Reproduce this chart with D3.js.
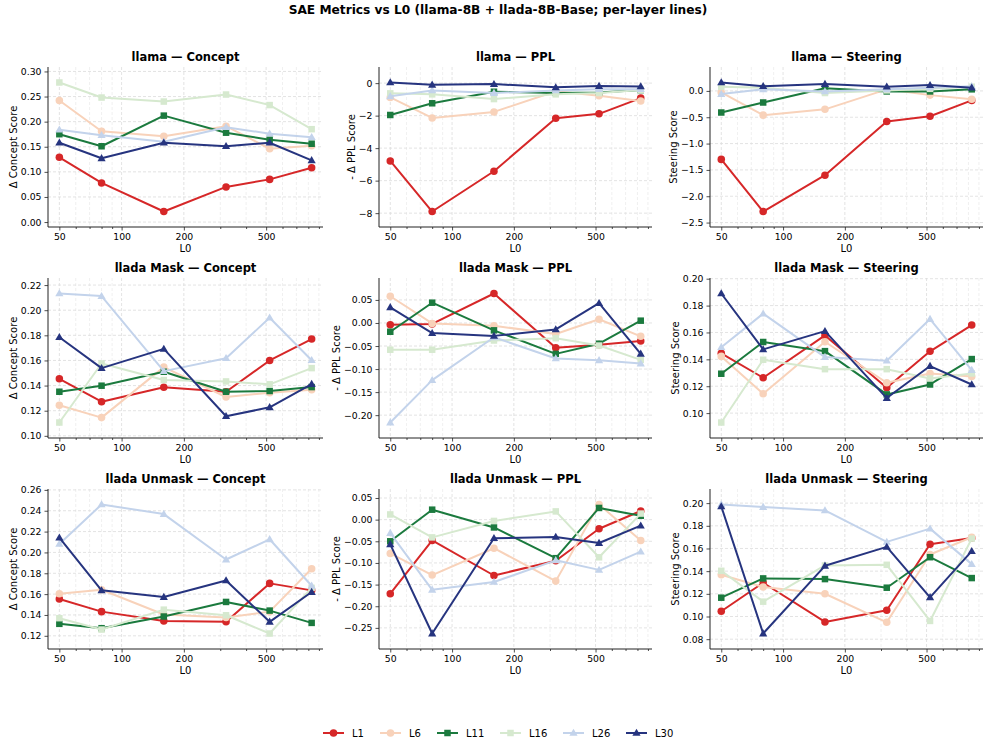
<!DOCTYPE html>
<html><head><meta charset="utf-8">
<script src="https://cdn.jsdelivr.net/npm/d3@7"></script>
<style>
body{margin:0;background:#fff;}
svg text{font-family:"DejaVu Sans",sans-serif;fill:#000;}
</style></head>
<body>
<svg id="chart" width="996" height="747"></svg>
<script>
// ---------- data ----------
const L0 = [50, 80, 160, 320, 520, 830];
const layers = ["L1", "L6", "L11", "L16", "L26", "L30"];
const layerColors = ["#d62728", "#f8d2ba", "#1b7a3e", "#d6e9cf", "#c3d3eb", "#26347f"];
const layerMarkers = ["circle", "circle", "square", "square", "triangle", "triangle"];
const xTicks = [50, 100, 200, 500];
const xMinorTicks = [60, 70, 80, 90, 300, 400, 600, 700, 800, 900];

// rows: L1, L6, L11, L16, L26, L30 ; columns follow L0
const llamaConcept = [
  [0.129, 0.078, 0.021, 0.070, 0.085, 0.108],
  [0.242, 0.181, 0.171, 0.191, 0.146, 0.152],
  [0.175, 0.151, 0.212, 0.178, 0.164, 0.156],
  [0.278, 0.248, 0.240, 0.254, 0.233, 0.185],
  [0.184, 0.173, 0.160, 0.189, 0.176, 0.169],
  [0.158, 0.127, 0.158, 0.151, 0.158, 0.123]
];
const llamaPPL = [
  [-4.79, -7.90, -5.42, -2.16, -1.89, -0.92],
  [-0.88, -2.14, -1.77, -0.50, -0.77, -1.10],
  [-1.96, -1.24, -0.53, -0.60, -0.57, -0.43],
  [-0.63, -0.69, -0.98, -0.69, -0.61, -0.43],
  [-0.81, -0.45, -0.61, -0.45, -0.37, -0.37],
  [0.04, -0.10, -0.06, -0.26, -0.18, -0.20]
];
const llamaSteering = [
  [-1.30, -2.29, -1.60, -0.58, -0.48, -0.18],
  [-0.03, -0.46, -0.35, 0.03, -0.08, -0.16],
  [-0.41, -0.22, 0.05, -0.01, -0.01, 0.03],
  [0.08, 0.06, -0.04, 0.01, 0.04, 0.08],
  [-0.06, 0.03, -0.01, 0.03, 0.06, 0.09],
  [0.16, 0.09, 0.13, 0.08, 0.11, 0.06]
];
const maskConcept = [
  [0.1454, 0.1272, 0.1386, 0.1351, 0.1600, 0.1770],
  [0.1243, 0.1145, 0.1547, 0.1309, 0.1343, 0.1367],
  [0.1351, 0.1399, 0.1510, 0.1351, 0.1357, 0.1388],
  [0.1106, 0.1576, 0.1444, 0.1433, 0.1410, 0.1539],
  [0.2133, 0.2112, 0.1515, 0.1618, 0.1940, 0.1602],
  [0.1785, 0.1539, 0.1692, 0.1156, 0.1227, 0.1412]
];
const maskPPL = [
  [-0.004, -0.002, 0.064, -0.054, -0.047, -0.039],
  [0.058, -0.001, -0.006, -0.024, 0.008, -0.029],
  [-0.019, 0.044, -0.016, -0.067, -0.045, 0.005],
  [-0.058, -0.058, -0.038, -0.033, -0.049, -0.080],
  [-0.216, -0.124, -0.031, -0.077, -0.081, -0.088],
  [0.034, -0.022, -0.028, -0.014, 0.043, -0.067]
];
const maskSteering = [
  [0.1445, 0.1263, 0.1578, 0.1189, 0.1460, 0.1655],
  [0.1422, 0.1144, 0.1531, 0.1226, 0.1295, 0.1273],
  [0.1293, 0.1529, 0.1461, 0.1139, 0.1213, 0.1402],
  [0.0930, 0.1397, 0.1327, 0.1327, 0.1258, 0.1295],
  [0.1490, 0.1740, 0.1417, 0.1390, 0.1700, 0.1320],
  [0.1890, 0.1474, 0.1610, 0.1112, 0.1350, 0.1213]
];
const unmaskConcept = [
  [0.1553, 0.1432, 0.1343, 0.1334, 0.1703, 0.1636],
  [0.1604, 0.1642, 0.1404, 0.1375, 0.1432, 0.1843],
  [0.1315, 0.1273, 0.1385, 0.1525, 0.1442, 0.1324],
  [0.1369, 0.1260, 0.1451, 0.1397, 0.1222, 0.1660],
  [0.2081, 0.2460, 0.2368, 0.1932, 0.2126, 0.1680],
  [0.2142, 0.1636, 0.1572, 0.1731, 0.1334, 0.1620]
];
const unmaskPPL = [
  [-0.171, -0.048, -0.129, -0.095, -0.021, 0.020],
  [-0.078, -0.128, -0.066, -0.142, 0.035, -0.048],
  [-0.050, 0.023, -0.018, -0.089, 0.027, 0.009],
  [0.012, -0.041, -0.003, 0.019, -0.087, 0.014],
  [-0.031, -0.162, -0.144, -0.094, -0.116, -0.074],
  [-0.057, -0.263, -0.043, -0.040, -0.054, -0.014]
];
const unmaskSteering = [
  [0.1046, 0.1298, 0.0952, 0.1055, 0.1637, 0.1693],
  [0.1368, 0.1260, 0.1201, 0.0949, 0.1547, 0.1699],
  [0.1166, 0.1336, 0.1330, 0.1254, 0.1523, 0.1339],
  [0.1403, 0.1131, 0.1450, 0.1456, 0.0961, 0.1687],
  [0.1988, 0.1965, 0.1936, 0.1658, 0.1775, 0.1462],
  [0.1971, 0.0850, 0.1447, 0.1614, 0.1169, 0.1576]
];

const panelTitles = ["llama — Concept", "llama — PPL", "llama — Steering",
  "llada Mask — Concept", "llada Mask — PPL", "llada Mask — Steering",
  "llada Unmask — Concept", "llada Unmask — PPL", "llada Unmask — Steering"];
const panelData = [llamaConcept, llamaPPL, llamaSteering, maskConcept, maskPPL, maskSteering,
  unmaskConcept, unmaskPPL, unmaskSteering];
const yLabels = ["Δ Concept Score", "- Δ PPL Score", "Steering Score"];
const yTickSteps = [0.05, 2, 0.5, 0.02, 0.05, 0.02, 0.02, 0.05, 0.02];
const yTickDecimals = [2, 0, 1, 2, 2, 2, 2, 2, 2];

// ---------- layout ----------
const svg = d3.select("#chart");
const colX = [[48, 323], [379, 652], [710, 983]];
const rowY = [[67, 227], [278, 438], [489, 649]];
const minus = s => s.replace("-", "\u2212");

svg.append("text").attr("x", 498).attr("y", 14).attr("text-anchor", "middle")
  .attr("font-size", 12.2).attr("font-weight", "bold")
  .text("SAE Metrics vs L0 (llama-8B + llada-8B-Base; per-layer lines)");

const lx = Math.log10(L0[0]), hx = Math.log10(L0[L0.length - 1]);
const xm = (hx - lx) * 0.045;
const xDomain = [Math.pow(10, lx - xm), Math.pow(10, hx + xm)];

function marker(g, type, x, y, color, s) {
  if (type === "circle") {
    g.append("circle").attr("cx", x).attr("cy", y).attr("r", s * 0.58).attr("fill", color);
  } else if (type === "square") {
    g.append("rect").attr("x", x - s * 0.5).attr("y", y - s * 0.5).attr("width", s).attr("height", s).attr("fill", color);
  } else {
    const h = s * 1.05;
    g.append("path").attr("d", `M${x},${y - h * 0.62}L${x + h * 0.6},${y + h * 0.42}L${x - h * 0.6},${y + h * 0.42}Z`).attr("fill", color);
  }
}

panelData.forEach((data, i) => {
  const r = Math.floor(i / 3), c = i % 3;
  const [x0, x1] = colX[c], [y0, y1] = rowY[r];
  const all = data.flat();
  const mn = d3.min(all), mx = d3.max(all), pad = (mx - mn) * 0.12;
  const x = d3.scaleLog().domain(xDomain).range([x0, x1]);
  const y = d3.scaleLinear().domain([mn - pad, mx + pad]).range([y1, y0]);
  const g = svg.append("g");

  // grid
  const step = yTickSteps[i];
  const yt = d3.range(Math.ceil((mn - pad) / step - 1e-9) * step, mx + pad + 1e-9, step)
    .map(v => Math.round(v / step) * step);
  const grid = g.append("g");
  xMinorTicks.forEach(t => grid.append("line").attr("x1", x(t)).attr("x2", x(t)).attr("y1", y0).attr("y2", y1)
    .attr("stroke", "#ececec").attr("stroke-width", 0.8).attr("stroke-dasharray", "3,2"));
  xTicks.forEach(t => grid.append("line").attr("x1", x(t)).attr("x2", x(t)).attr("y1", y0).attr("y2", y1)
    .attr("stroke", "#dcdcdc").attr("stroke-width", 0.8).attr("stroke-dasharray", "3,2"));
  yt.forEach(t => grid.append("line").attr("x1", x0).attr("x2", x1).attr("y1", y(t)).attr("y2", y(t))
    .attr("stroke", "#dcdcdc").attr("stroke-width", 0.8).attr("stroke-dasharray", "3,2"));

  // axes
  const xa = g.append("g").attr("transform", `translate(0,${y1})`)
    .call(d3.axisBottom(x).tickValues(xTicks).tickFormat(d3.format("d")).tickSize(3.5).tickPadding(3));
  const xmin = g.append("g").attr("transform", `translate(0,${y1})`)
    .call(d3.axisBottom(x).tickValues(xMinorTicks).tickFormat("").tickSize(2));
  xmin.select(".domain").remove();
  const ya = g.append("g").attr("transform", `translate(${x0},0)`)
    .call(d3.axisLeft(y).tickValues(yt).tickFormat(v => minus(v.toFixed(yTickDecimals[i]))).tickSize(3.5).tickPadding(3));
  [xa, ya, xmin].forEach(a => {
    a.selectAll("text").attr("font-size", 9.3).attr("font-family", "DejaVu Sans");
    a.select(".domain").attr("stroke", "#222").attr("stroke-width", 1);
    a.selectAll(".tick line").attr("stroke", "#222").attr("stroke-width", 0.8);
  });
  xa.select(".domain").attr("d", `M${x0},0H${x1}`);
  ya.select(".domain").attr("d", `M0,${y1}V${y0}`);

  // labels
  g.append("text").attr("x", (x0 + x1) / 2).attr("y", y0 - 6).attr("text-anchor", "middle")
    .attr("font-size", 11.5).attr("font-weight", "bold").text(panelTitles[i]);
  g.append("text").attr("x", (x0 + x1) / 2).attr("y", y1 + 25).attr("text-anchor", "middle")
    .attr("font-size", 10).text("L0");
  let tickLeft = x0;
  ya.selectAll(".tick text").each(function () {
    const b = this.getBBox();
    tickLeft = Math.min(tickLeft, x0 + b.x);
  });
  const ylx = tickLeft - 4;
  g.append("text").attr("transform", `translate(${ylx},${(y0 + y1) / 2}) rotate(-90)`)
    .attr("text-anchor", "middle").attr("font-size", 10).text(yLabels[c]);

  // series
  const line = d3.line().x((d, k) => x(L0[k])).y(d => y(d));
  data.forEach((ser, s) => {
    const sg = g.append("g");
    sg.append("path").datum(ser).attr("d", line).attr("fill", "none")
      .attr("stroke", layerColors[s]).attr("stroke-width", 2).attr("stroke-linejoin", "round");
    ser.forEach((v, k) => marker(sg, layerMarkers[s], x(L0[k]), y(v), layerColors[s], 6.5));
  });
});

// legend
const legX = [323, 380, 437, 500, 563, 626];
const lg = svg.append("g");
layers.forEach((name, s) => {
  const lx0 = legX[s], ly = 733;
  lg.append("line").attr("x1", lx0).attr("x2", lx0 + 21).attr("y1", ly).attr("y2", ly)
    .attr("stroke", layerColors[s]).attr("stroke-width", 2);
  marker(lg, layerMarkers[s], lx0 + 10.5, ly, layerColors[s], 6.5);
  lg.append("text").attr("x", lx0 + 29).attr("y", ly + 3.5).attr("font-size", 10).text(name);
});
</script>
</body></html>
